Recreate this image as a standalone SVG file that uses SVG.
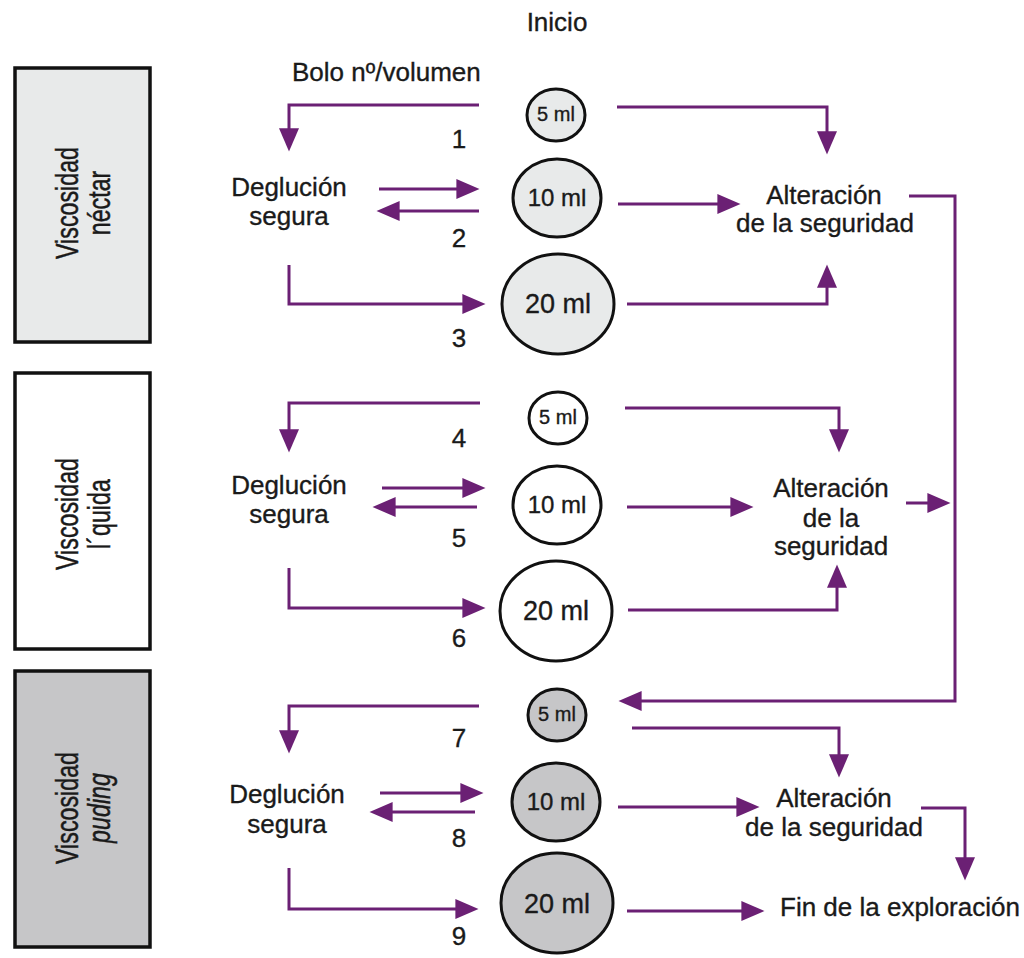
<svg xmlns="http://www.w3.org/2000/svg" width="1024" height="958" viewBox="0 0 1024 958">
<style>
  .t { font-family: "Liberation Sans", Arial, sans-serif; font-size: 26px; fill: #1a1a1a; stroke: #1a1a1a; stroke-width: 0.35; }
  .c { text-anchor: middle; }
  .lbl { font-family: "Liberation Sans", Arial, sans-serif; font-size: 31px; fill: #1a1a1a; stroke: #1a1a1a; stroke-width: 0.5; text-anchor: middle; }
  .box { stroke: #111; stroke-width: 3.5; }
  .circ { stroke: #111; stroke-width: 3; }
  .l1 { fill: #e8eaea; }
  .l2 { fill: #ffffff; }
  .l3 { fill: #c6c6c8; }
  .conn path { fill: none; stroke: #6b2074; stroke-width: 3; marker-end: url(#ah); }
  .s5 { font-size: 20px; }
  .s10 { font-size: 24px; }
  .s20 { font-size: 27px; }
</style>
<defs>
  <marker id="ah" markerUnits="userSpaceOnUse" markerWidth="24" markerHeight="20" viewBox="0 0 22 19" refX="12" refY="9.5" orient="auto">
    <path d="M0,0 L22,9.5 L0,19 z" fill="#6b2074"/>
  </marker>
</defs>
<rect width="1024" height="958" fill="#ffffff"/>

<!-- headings -->
<text id="inicio" class="t c" x="557" y="31">Inicio</text>
<text id="bolo" class="t" x="292" y="81">Bolo nº/volumen</text>

<!-- viscosity boxes -->
<g id="box-nectar">
  <rect class="box l1" x="15" y="68" width="135" height="274"/>
  <text class="lbl" transform="translate(0,203) rotate(-90) scale(0.75,1)"><tspan x="0" y="78">Viscosidad</tspan><tspan x="0" y="110">néctar</tspan></text>
</g>
<g id="box-liquida">
  <rect class="box l2" x="15" y="373" width="135" height="276"/>
  <text class="lbl" transform="translate(0,514) rotate(-90) scale(0.75,1)"><tspan x="0" y="78">Viscosidad</tspan><tspan x="0" y="110">l´quida</tspan></text>
</g>
<g id="box-puding">
  <rect class="box l3" x="15" y="671" width="135" height="276"/>
  <text class="lbl" transform="translate(0,808) rotate(-90) scale(0.75,1)"><tspan x="0" y="78">Viscosidad</tspan><tspan x="0" y="110" font-style="italic">puding</tspan></text>
</g>

<!-- bolus circles -->
<g id="n-5ml-1"><ellipse class="circ l1" cx="556" cy="115" rx="29" ry="26"/><text class="t c s5" x="556" y="121">5 ml</text></g>
<g id="n-10ml-1"><ellipse class="circ l1" cx="557" cy="198" rx="44" ry="39"/><text class="t c s10" x="557" y="206">10 ml</text></g>
<g id="n-20ml-1"><ellipse class="circ l1" cx="558" cy="304" rx="56" ry="50"/><text class="t c s20" x="558" y="313">20 ml</text></g>

<g id="n-5ml-2"><ellipse class="circ l2" cx="558" cy="418" rx="29" ry="26"/><text class="t c s5" x="558" y="424">5 ml</text></g>
<g id="n-10ml-2"><ellipse class="circ l2" cx="557" cy="505" rx="44" ry="39"/><text class="t c s10" x="557" y="513">10 ml</text></g>
<g id="n-20ml-2"><ellipse class="circ l2" cx="556" cy="611" rx="56" ry="50"/><text class="t c s20" x="556" y="620">20 ml</text></g>

<g id="n-5ml-3"><ellipse class="circ l3" cx="557" cy="715" rx="29" ry="26"/><text class="t c s5" x="557" y="721">5 ml</text></g>
<g id="n-10ml-3"><ellipse class="circ l3" cx="556" cy="802" rx="44" ry="39"/><text class="t c s10" x="556" y="810">10 ml</text></g>
<g id="n-20ml-3"><ellipse class="circ l3" cx="557" cy="903" rx="56" ry="50"/><text class="t c s20" x="557" y="913">20 ml</text></g>

<!-- deglución segura -->
<g id="n-deg-1"><text class="t c" x="289" y="196">Deglución</text><text class="t c" x="289" y="225">segura</text></g>
<g id="n-deg-2"><text class="t c" x="289" y="494">Deglución</text><text class="t c" x="289" y="523">segura</text></g>
<g id="n-deg-3"><text class="t c" x="287" y="803">Deglución</text><text class="t c" x="287" y="833">segura</text></g>

<!-- alteración -->
<g id="n-alt-1"><text class="t c" x="824" y="204">Alteración</text><text class="t c" x="825" y="232">de la seguridad</text></g>
<g id="n-alt-2"><text class="t c" x="831" y="497">Alteración</text><text class="t c" x="831" y="527">de la</text><text class="t c" x="831" y="555">seguridad</text></g>
<g id="n-alt-3"><text class="t c" x="834" y="807">Alteración</text><text class="t c" x="834" y="836">de la seguridad</text></g>
<g id="n-fin"><text class="t" x="780" y="916">Fin de la exploración</text></g>

<!-- numbers -->
<g id="numbers">
  <text class="t c" x="459" y="148">1</text>
  <text class="t c" x="459" y="247">2</text>
  <text class="t c" x="459" y="347">3</text>
  <text class="t c" x="459" y="447">4</text>
  <text class="t c" x="459" y="547">5</text>
  <text class="t c" x="459" y="647">6</text>
  <text class="t c" x="459" y="747">7</text>
  <text class="t c" x="459" y="847">8</text>
  <text class="t c" x="459" y="945">9</text>
</g>

<!-- connectors -->
<g id="connectors" class="conn">
  <path d="M479,105 H289 V141"/>
  <path d="M379,189 H469"/>
  <path d="M479,211 H387"/>
  <path d="M289,265 V304 H475"/>
  <path d="M617,107 H827 V144"/>
  <path d="M618,204 H730"/>
  <path d="M627,304 H827 V275"/>
  <path d="M909,196 H955 V701 H629"/>

  <path d="M480,403 H289 V442"/>
  <path d="M382,488 H475"/>
  <path d="M477,507 H383"/>
  <path d="M289,568 V608 H475"/>
  <path d="M625,408 H839 V442"/>
  <path d="M627,507 H743"/>
  <path d="M906,503 H940"/>
  <path d="M628,610 H837 V575"/>

  <path d="M479,706 H289 V743"/>
  <path d="M380,793 H473"/>
  <path d="M475,812 H380"/>
  <path d="M289,868 V909 H468"/>
  <path d="M632,728 H839 V767"/>
  <path d="M618,807 H749"/>
  <path d="M921,808 H965 V870"/>
  <path d="M627,911 H754"/>
</g>
</svg>
